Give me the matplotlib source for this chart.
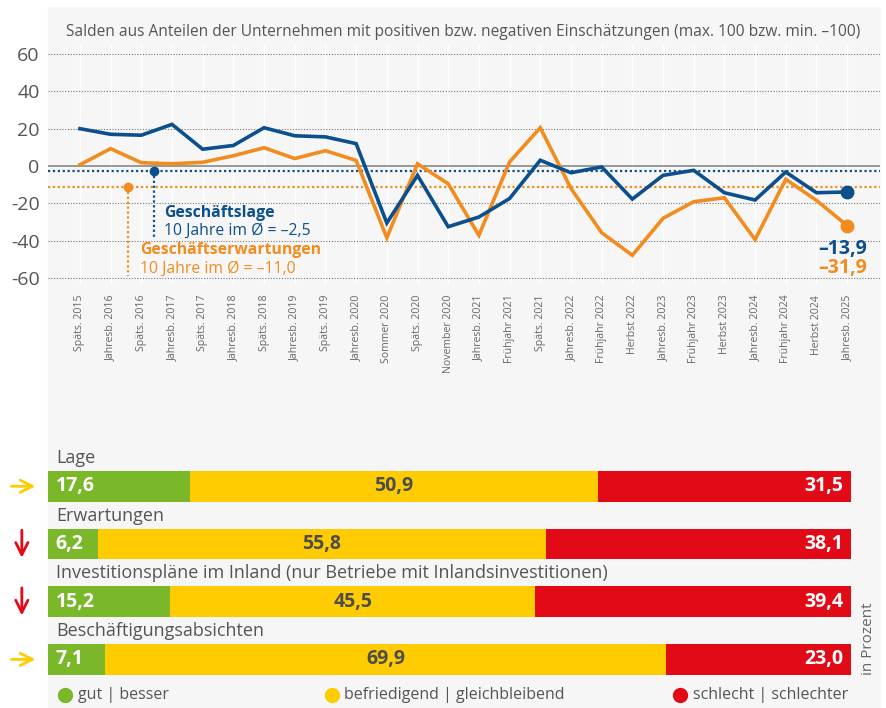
import matplotlib.pyplot as plt
from matplotlib.patches import Rectangle

# --- data -------------------------------------------------------------
periods = ['Späts. 2015', 'Jahresb. 2016', 'Späts. 2016', 'Jahresb. 2017',
           'Späts. 2017', 'Jahresb. 2018', 'Späts. 2018', 'Jahresb. 2019',
           'Späts. 2019', 'Jahresb. 2020', 'Sommer 2020', 'Späts. 2020',
           'November 2020', 'Jahresb. 2021', 'Frühjahr 2021', 'Späts. 2021',
           'Jahresb. 2022', 'Frühjahr 2022', 'Herbst 2022', 'Jahresb. 2023',
           'Frühjahr 2023', 'Herbst 2023', 'Jahresb. 2024', 'Frühjahr 2024',
           'Herbst 2024', 'Jahresb. 2025']
lage = [20, 17, 16.5, 22.3, 9, 11, 20.5, 16.2, 15.6, 12, -30.5, -5, -32.5,
        -27.3, -17.4, 3.1, -3.6, -0.5, -17.7, -5, -2.3, -14.3, -18.2, -3.2,
        -14.3, -13.9]
erwartung = [0.7, 9.3, 1.8, 1.2, 2, 5.5, 9.8, 4, 8.2, 3, -38.4, 1.2, -9.5,
             -37.1, 2.2, 20.5, -12, -35.7, -47.8, -28, -19.1, -17, -39.4,
             -7.1, -18.4, -31.9]
avg_lage = -2.5
avg_erw = -11.0

rows = ['Lage', 'Erwartungen',
        'Investitionspläne im Inland (nur Betriebe mit Inlandsinvestitionen)',
        'Beschäftigungsabsichten']
gut = [17.6, 6.2, 15.2, 7.1]
mittel = [50.9, 55.8, 45.5, 69.9]
schlecht = [31.5, 38.1, 39.4, 23.0]
trend = ['right', 'down', 'down', 'right']

BLUE = '#0b4f8c'
ORANGE = '#f28c1e'
GREEN = '#7ab829'
YELLOW = '#fecc00'
RED = '#e20a17'
GREY = '#555555'
BG = '#f6f6f6'

plt.rcParams['font.family'] = ['Open Sans', 'DejaVu Sans']

W, H = 887, 708
fig = plt.figure(figsize=(W / 100, H / 100), dpi=100)
fig.patches.append(Rectangle((48 / W, 0), (880 - 48) / W, 1 - 7 / H,
                             transform=fig.transFigure, color=BG, zorder=-5))


def box(l, t, r, b):
    return [l / W, 1 - b / H, (r - l) / W, (b - t) / H]


def fmt(v):
    return f'{v:.1f}'.replace('.', ',')


# --- line chart -------------------------------------------------------
ax = fig.add_axes(box(48, 45, 880, 285))
ax.set_facecolor('none')
x = list(range(len(periods)))
ax.set_xlim(-1.04, 26.07)
ax.set_ylim(-63.7, 64.8)
for s in ax.spines.values():
    s.set_visible(False)
for xi in x:
    ax.axvline(xi, color='white', lw=1, zorder=1)
for yv in [60, 40, 20, -20, -40, -60]:
    ax.axhline(yv, color='#777777', lw=0.8, ls=(0, (1, 1.5)), zorder=1)
ax.axhline(0, color='#888888', lw=1.2, zorder=1)

ax.axhline(avg_lage, color=BLUE, lw=1.6, ls=(0, (1, 1.2)), zorder=2)
ax.axhline(avg_erw, color=ORANGE, lw=1.6, ls=(0, (1, 1.2)), zorder=2)
ax.plot([2.4, 2.4], [avg_lage, -38.5], color=BLUE, lw=1.6, ls=(0, (1, 1.2)))
ax.plot([1.56, 1.56], [avg_erw, -58.7], color=ORANGE, lw=1.6, ls=(0, (1, 1.2)))
ax.plot(2.4, avg_lage, 'o', color=BLUE, ms=6)
ax.plot(1.56, avg_erw, 'o', color=ORANGE, ms=6)

ax.plot(x, erwartung, color=ORANGE, lw=2.6, zorder=3, solid_joinstyle='miter')
ax.plot(x, lage, color=BLUE, lw=2.6, zorder=4, solid_joinstyle='miter')
ax.plot(x[-1], erwartung[-1], 'o', color=ORANGE, ms=9, zorder=5)
ax.plot(x[-1], lage[-1], 'o', color=BLUE, ms=9, zorder=5)

ax.text(2.74, -25.1, 'Geschäftslage', color=BLUE, fontsize=11.3,
        fontweight='bold', va='center')
ax.text(2.74, -34.8, '10 Jahre im Ø = –2,5', color=BLUE, fontsize=11.3,
        va='center')
ax.text(1.96, -44.9, 'Geschäftserwartungen', color=ORANGE, fontsize=11.3,
        fontweight='bold', va='center')
ax.text(1.96, -55.1, '10 Jahre im Ø = –11,0', color=ORANGE, fontsize=11.3,
        va='center')
ax.text(25.65, -44.4, fmt(lage[-1]).replace('-', '–'), color=BLUE,
        fontsize=14, fontweight='bold', ha='right', va='center')
ax.text(25.65, -54.6, fmt(erwartung[-1]).replace('-', '–'), color=ORANGE,
        fontsize=14, fontweight='bold', ha='right', va='center')

ax.set_xticks(x)
ax.set_xticklabels(periods, rotation=90, fontsize=7.6, color='#666666',
                   va='top')
ax.set_yticks([60, 40, 20, 0, -20, -40, -60])
ax.set_yticklabels(['60', '40', '20', '0', '-20', '-40', '-60'],
                   fontsize=14, color=GREY)
ax.tick_params(length=0)
ax.tick_params(axis='x', pad=7)
ax.tick_params(axis='y', pad=6)

fig.text(463 / W, 1 - 32 / H,
         'Salden aus Anteilen der Unternehmen mit positiven bzw. negativen '
         'Einschätzungen (max. 100 bzw. min. –100)',
         ha='center', va='center', fontsize=11.2, color=GREY)

# --- stacked bars -----------------------------------------------------
bx = fig.add_axes(box(48.3, 440, 850.7, 708))
bx.set_facecolor('none')
bx.set_xlim(0, 100)
bx.set_ylim(3.842, -0.802)
bx.axis('off')
pos = list(range(len(rows)))
left2 = [g + m for g, m in zip(gut, mittel)]
bx.barh(pos, gut, height=0.532, color=GREEN)
bx.barh(pos, mittel, left=gut, height=0.532, color=YELLOW)
bx.barh(pos, schlecht, left=left2, height=0.532, color=RED)

for i in pos:
    bx.text(1.0, i - 0.49, rows[i], fontsize=13, color=GREY, va='center')
    bx.text(0.9, i, fmt(gut[i]), color='white',
            fontsize=14, fontweight='bold', va='center')
    bx.text(gut[i] + mittel[i] / 2, i, fmt(mittel[i]),
            color='#4d4d4d', fontsize=14, fontweight='bold', va='center',
            ha='center')
    bx.text(99.1, i, fmt(schlecht[i]), color='white',
            fontsize=14, fontweight='bold', va='center', ha='right')
    if trend[i] == 'right':
        bx.annotate('', xy=(-1.6, i), xytext=(-4.6, i), annotation_clip=False,
                    arrowprops=dict(arrowstyle='->', color=YELLOW, lw=2,
                                    mutation_scale=22, shrinkA=0, shrinkB=0))
    else:
        bx.annotate('', xy=(-3.3, i + 0.24), xytext=(-3.3, i - 0.24),
                    annotation_clip=False,
                    arrowprops=dict(arrowstyle='->', color=RED, lw=2,
                                    mutation_scale=22, shrinkA=0, shrinkB=0))

legend = [(GREEN, 2.1, 'gut | besser'),
          (YELLOW, 35.3, 'befriedigend | gleichbleibend'),
          (RED, 78.7, 'schlecht | schlechter')]
for col, lx, txt in legend:
    bx.plot(lx, 3.617, 'o', color=col, ms=10, clip_on=False)
    bx.text(lx + 1.6, 3.617, txt, fontsize=11.5, color=GREY, va='center')

fig.text(869 / W, 1 - 639 / H, 'in Prozent', rotation=90, ha='center',
         va='center', fontsize=11, color='#666666')

fig.savefig('out.png', dpi=100)
